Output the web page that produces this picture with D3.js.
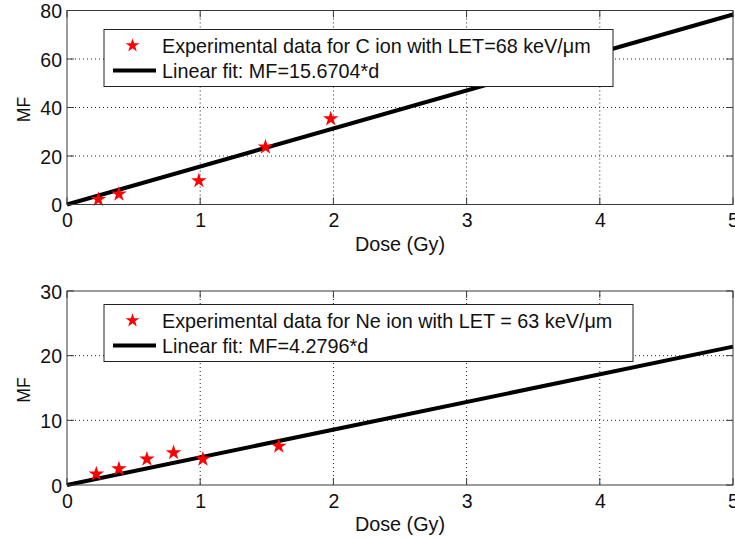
<!DOCTYPE html>
<html>
<head>
<meta charset="utf-8">
<script src="https://cdn.jsdelivr.net/npm/d3@7"></script>
<style>
  html, body { margin: 0; padding: 0; background: #fff; overflow: hidden; }
  svg { display: block; font-family: "Liberation Sans", Arial, sans-serif; }
</style>
</head>
<body>
<svg id="chart" width="735" height="539"></svg>
<script>
// Carbon ion measurements (dose in Gy, MF)
const cDose = [0.235, 0.39, 0.99, 1.49, 1.98];
const cMF   = [2.1, 4.3, 9.8, 23.7, 35.3];
const cSlope = 15.6704;

// Neon ion measurements
const neDose = [0.22, 0.39, 0.60, 0.80, 1.02, 1.59];
const neMF   = [1.7, 2.5, 4.0, 5.0, 4.0, 6.0];
const neSlope = 4.2796;

const xTicks = [0, 1, 2, 3, 4, 5];
const yTicksTop = [0, 20, 40, 60, 80];
const yTicksBottom = [0, 10, 20, 30];

const panels = [
  { top: 10.5, yMax: 80, yTicks: yTicksTop, dose: cDose, mf: cMF, slope: cSlope,
    legend: ["Experimental data for C ion with LET=68 keV/\u03bcm", "Linear fit: MF=15.6704*d"],
    legendBox: { x: 104, y: 29.5, w: 509, h: 57 } },
  { top: 291, yMax: 30, yTicks: yTicksBottom, dose: neDose, mf: neMF, slope: neSlope,
    legend: ["Experimental data for Ne ion with LET = 63 keV/\u03bcm", "Linear fit: MF=4.2796*d"],
    legendBox: { x: 104, y: 304.5, w: 529, h: 57 } }
];

const svg = d3.select("#chart");
const left = 67, right = 733, plotH = 194;
const tickFont = 19.5, labelFont = 19.8, yLabelFont = 17.5;
const tickLen = 7;
const frameColor = "#3a3a3a";

panels.forEach(p => {
  const x = d3.scaleLinear().domain([0, 5]).range([left, right]);
  const y = d3.scaleLinear().domain([0, p.yMax]).range([p.top + plotH, p.top]);
  const g = svg.append("g");
  const bottom = p.top + plotH;

  // dotted grid at interior ticks
  g.selectAll(".vgrid").data(xTicks.slice(1, -1)).join("line")
    .attr("x1", d => x(d)).attr("x2", d => x(d))
    .attr("y1", p.top).attr("y2", bottom)
    .attr("stroke", "#222").attr("stroke-width", 1).attr("stroke-dasharray", "1,3");
  g.selectAll(".hgrid").data(p.yTicks.slice(1, -1)).join("line")
    .attr("x1", left).attr("x2", right)
    .attr("y1", d => y(d)).attr("y2", d => y(d))
    .attr("stroke", "#222").attr("stroke-width", 1).attr("stroke-dasharray", "1,3");

  // axes with inward ticks on all four sides
  const axB = g.append("g").attr("transform", `translate(0,${bottom})`)
    .call(d3.axisBottom(x).tickValues(xTicks).tickSize(0).tickPadding(0).tickFormat(d3.format("d")));
  axB.select(".domain").remove();
  axB.selectAll("text").attr("y", 22.5).attr("dy", null)
    .attr("font-size", tickFont).attr("font-family", "Liberation Sans, Arial, sans-serif").attr("fill", "#111");

  const axL = g.append("g").attr("transform", `translate(${left},0)`)
    .call(d3.axisLeft(y).tickValues(p.yTicks).tickSize(0).tickPadding(5).tickFormat(d3.format("d")));
  axL.select(".domain").remove();
  axL.selectAll("text").attr("dy", "0.36em")
    .attr("font-size", tickFont).attr("font-family", "Liberation Sans, Arial, sans-serif").attr("fill", "#111");

  const tickG = g.append("g").attr("stroke", frameColor).attr("stroke-width", 1);
  xTicks.forEach(t => {
    tickG.append("line").attr("x1", x(t)).attr("x2", x(t)).attr("y1", bottom).attr("y2", bottom - tickLen);
    tickG.append("line").attr("x1", x(t)).attr("x2", x(t)).attr("y1", p.top).attr("y2", p.top + tickLen);
  });
  p.yTicks.forEach(t => {
    tickG.append("line").attr("x1", left).attr("x2", left + tickLen).attr("y1", y(t)).attr("y2", y(t));
    tickG.append("line").attr("x1", right).attr("x2", right - tickLen).attr("y1", y(t)).attr("y2", y(t));
  });

  // linear fit
  const fit = d3.line().x(d => x(d)).y(d => y(p.slope * d));
  g.append("path").datum([0, 5]).attr("d", fit)
    .attr("fill", "none").attr("stroke", "#000").attr("stroke-width", 4);

  // experimental points
  const star = d3.symbol().type(d3.symbolStar).size(75);
  g.selectAll(".pt").data(p.dose.map((d, i) => [d, p.mf[i]])).join("path")
    .attr("d", star)
    .attr("transform", d => `translate(${x(d[0])},${y(d[1])})`)
    .attr("fill", "#ff0000");

  // frame
  g.append("rect").attr("x", left).attr("y", p.top).attr("width", right - left).attr("height", plotH)
    .attr("fill", "none").attr("stroke", frameColor).attr("stroke-width", 1);

  // legend
  const lb = p.legendBox;
  const lg = g.append("g");
  lg.append("rect").attr("x", lb.x).attr("y", lb.y).attr("width", lb.w).attr("height", lb.h)
    .attr("fill", "#fff").attr("stroke", "#222").attr("stroke-width", 1);
  lg.append("path").attr("d", d3.symbol().type(d3.symbolStar).size(60))
    .attr("transform", `translate(${lb.x + 28.5},${lb.y + 16})`).attr("fill", "#ff0000");
  lg.append("line").attr("x1", lb.x + 9).attr("x2", lb.x + 52)
    .attr("y1", lb.y + 41).attr("y2", lb.y + 41).attr("stroke", "#000").attr("stroke-width", 4);
  lg.append("text").attr("x", lb.x + 58).attr("y", lb.y + 23)
    .attr("font-size", labelFont).attr("fill", "#111").text(p.legend[0]);
  lg.append("text").attr("x", lb.x + 58).attr("y", lb.y + 48.5)
    .attr("font-size", labelFont).attr("fill", "#111").text(p.legend[1]);

  // axis titles
  g.append("text").attr("x", 400).attr("y", bottom + 46)
    .attr("text-anchor", "middle").attr("font-size", labelFont).attr("fill", "#111").text("Dose (Gy)");
  g.append("text").attr("transform", `translate(30,${p.top + plotH / 2 + 2}) rotate(-90)`)
    .attr("text-anchor", "middle").attr("font-size", yLabelFont).attr("fill", "#111").text("MF");
});
</script>
</body>
</html>
